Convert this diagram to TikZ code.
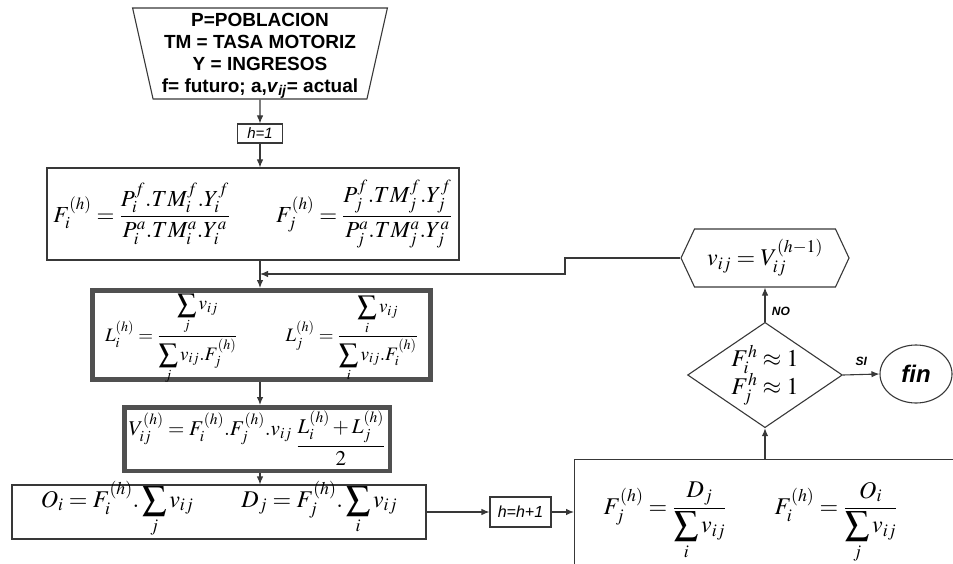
\documentclass[tikz,border=0pt]{standalone}
\usepackage{amsmath}
\usepackage{mathptmx}
\usepackage[no-math]{fontspec}
\setmainfont{Liberation Serif}
\newfontfamily\arial{Liberation Sans}
\usetikzlibrary{arrows.meta,shapes.geometric,shapes.symbols}
\definecolor{trazo}{HTML}{383838}
\definecolor{grueso}{HTML}{505050}

\begin{document}
\begin{tikzpicture}[x=1pt,y=-1pt]
	% Estilos
	\tikzstyle{flecha}=[-{Latex[length=8pt,width=6.5pt]},line width=1.1pt,draw=trazo]
	\tikzstyle{caja}=[draw=trazo,line width=1.1pt,inner sep=0pt]
	\tikzstyle{cajagruesa}=[draw=grueso,line width=5pt,inner sep=0pt]
	\tikzstyle{rotulo}=[font=\arial\bfseries\itshape\fontsize{12}{14}\selectfont]
	% Tamanos de letra
	\def\Media{\fontsize{23}{27}\selectfont}
	\def\Normal{\fontsize{21}{25}\selectfont}
	\def\Chica{\fontsize{19}{23}\selectfont}
	\def\Grande{\fontsize{24}{28}\selectfont}
	%
	\useasboundingbox (0,0) rectangle (953,564);
	\clip (0,0) rectangle (953,564);
	% Nodos
	\node[caja,trapezium,trapezium stretches=true,trapezium left angle=77,trapezium right angle=77,shape border rotate=180,minimum width=255pt,minimum height=91pt,align=center,text height=79.4pt,text depth=2pt,font=\arial\bfseries\fontsize{19}{21.8}\selectfont] (datos) at (260,53.5) {P=POBLACION\\TM = TASA MOTORIZ\\Y = INGRESOS\\f= futuro; a,\textit{v}\textsubscript{\textit{ij}}= actual};
	\node[caja,minimum width=45pt,minimum height=19pt,font=\arial\itshape\fontsize{15}{18}\selectfont] (h1) at (260,133.5) {h=1};
	\node[caja,minimum width=412pt,minimum height=92pt,font=\Media] (F) at (253,214) {$F_i^{(h)} = \dfrac{P_i^f.TM_i^f.Y_i^f}{P_i^a.TM_i^a.Y_i^a}\qquad F_j^{(h)} = \dfrac{P_j^f.TM_j^f.Y_j^f}{P_j^a.TM_j^a.Y_j^a}$};
	\node[cajagruesa,minimum width=338pt,text height=51pt,text depth=38pt,font=\Chica] (L) at (261.5,335) {$L_i^{(h)} = \dfrac{\displaystyle\sum_j v_{ij}}{\displaystyle\sum_j v_{ij}.F_j^{(h)}}$\hspace{48pt}$L_j^{(h)} = \dfrac{\displaystyle\sum_i v_{ij}}{\displaystyle\sum_i v_{ij}.F_i^{(h)}}$};
	\node[cajagruesa,line width=4.5pt,minimum width=265.5pt,text height=28pt,text depth=35.5pt,font=\Normal] (V) at (257,439) {$V_{ij}^{(h)} = F_i^{(h)}.F_j^{(h)}.v_{ij}\;\raisebox{-16pt}{$\dfrac{L_i^{(h)}+L_j^{(h)}}{2}$}$};
	\node[caja,minimum width=414pt,text height=22pt,text depth=32pt,font=\Grande] (O) at (219,512) {$O_i = F_i^{(h)}.\displaystyle\sum_j v_{ij}\qquad D_j = F_j^{(h)}.\displaystyle\sum_i v_{ij}$};
	\node[caja,minimum width=61pt,minimum height=30pt,font=\arial\itshape\fontsize{16}{19}\selectfont] (h2) at (520.5,512) {h=h+1};
	\node[caja,anchor=north west,inner xsep=29pt,inner ysep=0pt,text width=420pt,align=left,text height=55pt,text depth=100pt,font=\Grande] (Fnueva) at (574,459) {$F_j^{(h)} = \dfrac{D_j}{\displaystyle\sum_i v_{ij}}\qquad F_i^{(h)} = \dfrac{O_i}{\displaystyle\sum_j v_{ij}}$};
	\node[caja,diamond,aspect=1.47,minimum width=153pt,minimum height=104pt,align=center,font=\Grande] (cond) at (765,375) {$F_i^h \approx 1$\\$F_j^h \approx 1$};
	\node[caja,ellipse,minimum width=72pt,minimum height=58pt,font=\arial\bfseries\itshape\fontsize{24}{28}\selectfont] (fin) at (916,374) {fin};
	\node[caja,signal,signal to=west and east,signal pointer angle=130,minimum width=168pt,minimum height=58pt,font=\Grande] (nuevo) at (765,258) {$v_{ij} = V_{ij}^{(h-1)}$};
	\coordinate (quiebre) at (565,274);
	% Flechas
	\draw[flecha] (datos) -- (h1);
	\draw[flecha] (h1) -- (h1 |- F.north);
	\draw[flecha] (F.south -| h1) -- (L.north -| h1);
	\draw[flecha] (L.south -| h1) -- (V.north -| h1);
	\draw[flecha] (V.south -| h1) -- (O.north -| h1);
	\draw[flecha] (O.east) -- (h2.west);
	\draw[flecha] (h2.east) -- (Fnueva.west |- h2);
	\draw[flecha] (Fnueva.north -| cond) -- (cond.south);
	\draw[flecha] (cond.north) -- (nuevo.south) node[rotulo,pos=0.3,right=3pt]{NO};
	\draw[flecha] (cond.east) -- (fin.west) node[rotulo,midway,above=5pt]{SI};
	\draw[flecha] (nuevo.west) -| (quiebre) -- (quiebre -| h1);
\end{tikzpicture}
\end{document}
